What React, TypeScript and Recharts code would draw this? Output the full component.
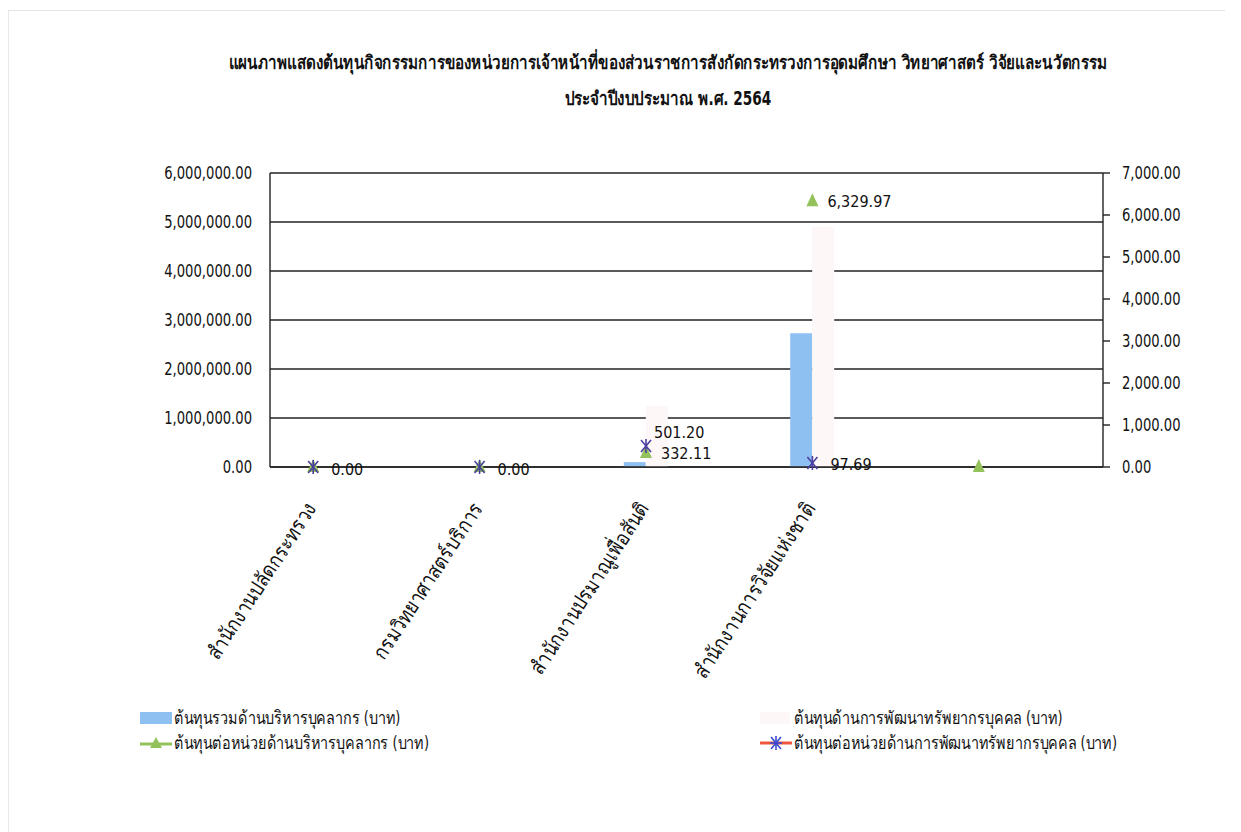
import { Bar, ComposedChart, CartesianGrid, LabelList, Line, XAxis, YAxis } from 'recharts';

document.body.style.margin = '0';

const categories = [
  'สำนักงานปลัดกระทรวง',
  'กรมวิทยาศาสตร์บริการ',
  'สำนักงานปรมาณูเพื่อสันติ',
  'สำนักงานการวิจัยแห่งชาติ',
  '',
];
const totalAdminCost = [0, 0, 100000, 2730000, 0];
const devCost = [0, 0, 1250000, 4900000, 0];
const unitAdminCost = [0, 0, 332.11, 6329.97, 0];
const unitDevCost: (number | null)[] = [0, 0, 501.2, 97.69, null];
const unitAdminLabels = ['', '', '332.11', '6,329.97', ''];
const unitDevLabels = ['0.00', '0.00', '501.20', '97.69', ''];
const leftTicks = [0, 1000000, 2000000, 3000000, 4000000, 5000000, 6000000];
const rightTicks = [0, 1000, 2000, 3000, 4000, 5000, 6000, 7000];

const seriesNames = [
  'ต้นทุนรวมด้านบริหารบุคลากร (บาท)',
  'ต้นทุนด้านการพัฒนาทรัพยากรบุคคล (บาท)',
  'ต้นทุนต่อหน่วยด้านบริหารบุคลากร (บาท)',
  'ต้นทุนต่อหน่วยด้านการพัฒนาทรัพยากรบุคคล (บาท)',
];

const data = categories.map((name, i) => ({
  name,
  total: totalAdminCost[i],
  dev: devCost[i],
  unitAdmin: unitAdminCost[i],
  unitDev: unitDevCost[i],
  adminLabel: unitAdminLabels[i],
  devLabel: unitDevLabels[i],
}));

const FONT = '"DejaVu Sans Condensed", "Noto Sans", sans-serif';
const BLUE = '#8fc0f2';
const PINK = '#fef7f8';
const GREEN = '#93c15a';
const PURPLE = '#4a3f9e';
const RED = '#f0563a';

const fmt = (v: number) =>
  v.toLocaleString('en-US', { minimumFractionDigits: 2, maximumFractionDigits: 2 });

function Triangle({ cx, cy }: any) {
  if (cx == null || cy == null) return null;
  return <path d={`M${cx},${cy - 8} L${cx + 6},${cy + 5} L${cx - 6},${cy + 5} Z`} fill={GREEN} />;
}

function Star({ cx, cy }: any) {
  if (cx == null || cy == null) return null;
  return (
    <g stroke={PURPLE} strokeWidth={1.6}>
      <line x1={cx - 5} y1={cy - 6} x2={cx + 5} y2={cy + 6} />
      <line x1={cx + 5} y1={cy - 6} x2={cx - 5} y2={cy + 6} />
      <line x1={cx} y1={cy - 7} x2={cx} y2={cy + 7} />
    </g>
  );
}

function CategoryTick({ x, y, payload }: any) {
  return (
    <text
      transform={`translate(${x + 4},${y + 33}) rotate(-57) scale(0.86,1)`}
      textAnchor="end"
      fontSize={21}
      fontFamily={FONT}
      fill="#111"
    >
      {payload.value}
    </text>
  );
}

function ValueTick({ x, y, payload, anchor }: any) {
  return (
    <text
      transform={`translate(${x},${y}) scale(0.86,1)`}
      textAnchor={anchor}
      dominantBaseline="central"
      fontSize={17}
      fontFamily={FONT}
      fill="#111"
    >
      {fmt(payload.value)}
    </text>
  );
}

function AdminLabel(props: any) {
  const { x, y, value } = props;
  if (!value) return null;
  return (
    <text x={x + 15} y={y + 1} fontSize={16} fontFamily={FONT} fill="#111" dominantBaseline="middle">
      {value}
    </text>
  );
}

function DevLabel(props: any) {
  const { x, y, value, index } = props;
  if (!value) return null;
  const up = index === 2;
  return (
    <text
      x={x + (up ? 8 : 18)}
      y={y + (up ? -12 : 3)}
      fontSize={16}
      fontFamily={FONT}
      fill="#111"
      dominantBaseline="middle"
    >
      {value}
    </text>
  );
}

function LegendText({ children }: any) {
  return (
    <span style={{ display: 'inline-block', transform: 'scaleX(0.8)', transformOrigin: 'left center', whiteSpace: 'nowrap' }}>
      {children}
    </span>
  );
}

export default function App() {
  return (
    <div style={{ position: 'relative', width: 1241, height: 832, background: '#fff', fontFamily: FONT, overflow: 'hidden' }}>
      <div
        style={{
          position: 'absolute',
          left: 8,
          top: 10,
          width: 1216,
          height: 830,
          borderTop: '1px solid #e4e4e4',
          borderLeft: '1px solid #e8e8e8',
        }}
      />
      <div
        style={{
          position: 'absolute',
          left: 0,
          width: 1336,
          top: 44,
          textAlign: 'center',
          fontSize: 19,
          fontWeight: 'bold',
          lineHeight: '36px',
          color: '#111',
          transform: 'scaleX(0.8)',
          transformOrigin: '668px 0',
        }}
      >
        <div>แผนภาพแสดงต้นทุนกิจกรรมการของหน่วยการเจ้าหน้าที่ของส่วนราชการสังกัดกระทรวงการอุดมศึกษา วิทยาศาสตร์ วิจัยและนวัตกรรม</div>
        <div>ประจำปีงบประมาณ พ.ศ. 2564</div>
      </div>
      <ComposedChart
        width={1241}
        height={832}
        data={data}
        margin={{ top: 173, right: 0, bottom: 0, left: 0 }}
        barGap={0}
        style={{ position: 'absolute', left: 0, top: 0 }}
      >
        <CartesianGrid yAxisId="left" vertical={false} stroke="#222" strokeWidth={1.4} horizontalValues={leftTicks} />
        <XAxis
          dataKey="name"
          height={365}
          interval={0}
          tick={<CategoryTick />}
          tickLine={false}
          axisLine={{ stroke: '#222', strokeWidth: 1.4 }}
          padding={{ left: -40, right: 41 }}
        />
        <YAxis
          yAxisId="left"
          width={270}
          domain={[0, 6000000]}
          ticks={leftTicks}
          tickLine={false}
          tickMargin={12}
          axisLine={{ stroke: '#222', strokeWidth: 1.4 }}
          tick={<ValueTick anchor="end" />}
        />
        <YAxis
          yAxisId="right"
          orientation="right"
          width={138}
          domain={[0, 7000]}
          ticks={rightTicks}
          tickSize={7}
          tickMargin={12}
          tickLine={{ stroke: '#222', strokeWidth: 1.4 }}
          axisLine={{ stroke: '#222', strokeWidth: 1.4 }}
          tick={<ValueTick anchor="start" />}
        />
        <Bar yAxisId="left" dataKey="total" name={seriesNames[0]} fill={BLUE} barSize={22} isAnimationActive={false} />
        <Bar yAxisId="left" dataKey="dev" name={seriesNames[1]} fill={PINK} barSize={22} isAnimationActive={false} />
        <Line
          yAxisId="right"
          dataKey="unitAdmin"
          name={seriesNames[2]}
          stroke="none"
          dot={<Triangle />}
          activeDot={false}
          isAnimationActive={false}
        >
          <LabelList dataKey="adminLabel" content={<AdminLabel />} />
        </Line>
        <Line
          yAxisId="right"
          dataKey="unitDev"
          name={seriesNames[3]}
          stroke="none"
          dot={<Star />}
          activeDot={false}
          isAnimationActive={false}
        >
          <LabelList dataKey="devLabel" content={<DevLabel />} />
        </Line>
      </ComposedChart>
      <div style={{ position: 'absolute', left: 139, top: 705, fontSize: 18, color: '#111', lineHeight: '25px' }}>
        <div style={{ display: 'flex', alignItems: 'center' }}>
          <svg width={35} height={14}>
            <rect x={1} y={1} width={32} height={12} fill={BLUE} />
          </svg>
          <LegendText>{seriesNames[0]}</LegendText>
        </div>
        <div style={{ display: 'flex', alignItems: 'center' }}>
          <svg width={35} height={16}>
            <line x1={1} y1={9} x2={33} y2={9} stroke={GREEN} strokeWidth={3} />
            <path d="M17,2 L23,13 L11,13 Z" fill={GREEN} />
          </svg>
          <LegendText>{seriesNames[2]}</LegendText>
        </div>
      </div>
      <div style={{ position: 'absolute', left: 759, top: 705, fontSize: 18, color: '#111', lineHeight: '25px' }}>
        <div style={{ display: 'flex', alignItems: 'center' }}>
          <svg width={35} height={14}>
            <rect x={1} y={1} width={30} height={12} fill={PINK} />
          </svg>
          <LegendText>{seriesNames[1]}</LegendText>
        </div>
        <div style={{ display: 'flex', alignItems: 'center' }}>
          <svg width={35} height={16}>
            <line x1={1} y1={8} x2={33} y2={8} stroke={RED} strokeWidth={3} />
            <g stroke="#3b4ad0" strokeWidth={1.6}>
              <line x1={12} y1={2} x2={22} y2={14} />
              <line x1={22} y1={2} x2={12} y2={14} />
              <line x1={17} y1={1} x2={17} y2={15} />
              <line x1={11} y1={8} x2={23} y2={8} />
            </g>
          </svg>
          <LegendText>{seriesNames[3]}</LegendText>
        </div>
      </div>
    </div>
  );
}
